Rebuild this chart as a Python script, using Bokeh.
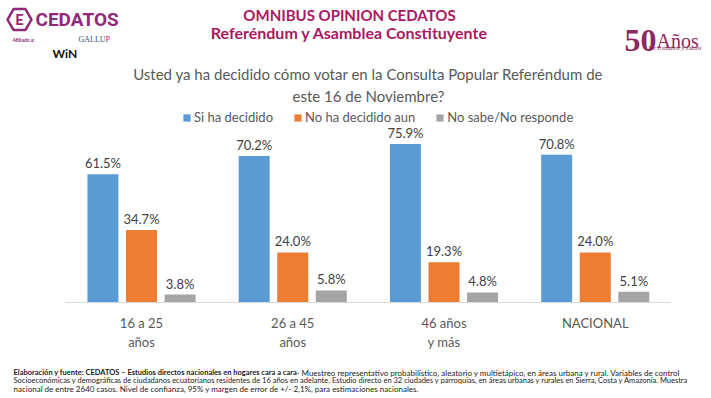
from bokeh.plotting import figure
from bokeh.models import ColumnDataSource, Range1d, Legend, LegendItem, FixedTicker
from bokeh.layouts import column
from bokeh.transform import dodge
from bokeh.core.properties import value
from bokeh.embed import file_html
from bokeh.resources import INLINE

# ---- data ----
groups = ["16 a 25\naños", "26 a 45\naños", "46 años\ny más", "NACIONAL"]
si_decidido = [61.5, 70.2, 75.9, 70.8]
no_decidido = [34.7, 24.0, 19.3, 24.0]
no_sabe = [3.8, 5.8, 4.8, 5.1]
series_names = ["Si ha decidido", "No ha decidido aun", "No sabe/No responde"]
series_colors = ["#5B9BD5", "#ED7D31", "#A5A5A5"]

FONT = "Lato"
W = 711
H_HEAD, H_MAIN, H_FOOT = 108, 244, 46


def blank(h):
    f = figure(width=W, height=h, x_range=Range1d(0, W), y_range=Range1d(h, 0),
               output_backend="svg", toolbar_location=None,
               min_border_left=0, min_border_right=0, min_border_top=0, min_border_bottom=0)
    f.axis.visible = False
    f.grid.visible = False
    f.outline_line_color = None
    return f


def txt(f, s, x, y, size, color, align="left", style="normal", font=FONT, baseline="middle"):
    f.text(x=[x], y=[y], text=[s], text_font=value(font), text_font_size=size,
           text_color=color, text_align=align, text_baseline=baseline, text_font_style=style)


# ---- header ----
head = blank(H_HEAD)
TCOL = "#A8195F"
txt(head, "OMNIBUS OPINION CEDATOS", 349, 14, "15px", TCOL, "center", "bold")
txt(head, "Referéndum y Asamblea Constituyente", 349, 32, "16px", TCOL, "center", "bold")
txt(head, "Usted ya ha decidido cómo votar en la Consulta Popular Referéndum de", 368, 73, "15px", "#595959", "center")
txt(head, "este 16 de Noviembre?", 368, 95, "15px", "#595959", "center")

LCOL = "#8E2A77"
head.scatter(x=[19], y=[19], marker="hex", size=24, fill_color=None, line_color=LCOL, line_width=2.5)
txt(head, "E", 19, 19, "14px", LCOL, "center", "bold", "Roboto")
txt(head, "CEDATOS", 35, 19, "19px", LCOL, "left", "bold", "Roboto")
txt(head, "Afiliado a:", 12, 39, "5px", LCOL, "left", "bold")
txt(head, "GALLUP", 78, 39, "8px", "#3E4F6E", "left", "normal", "Liberation Serif")
txt(head, "WiN", 52, 53, "12px", "#111111", "left", "bold")
ACOL = "#8B2A5E"
txt(head, "50", 624, 40, "32px", ACOL, "left", "bold", "Liberation Serif", "alphabetic")
txt(head, "Años", 656, 40, "20px", ACOL, "left", "normal", "Liberation Serif", "alphabetic")
txt(head, "De Estudios y Datos", 701, 47, "6.5px", ACOL, "right", "italic", "Liberation Serif")

# ---- main chart ----
idx = list(range(len(groups)))
src = ColumnDataSource(dict(
    xi=idx,
    si=si_decidido, no=no_decidido, ns=no_sabe,
    si_t=[f"{v:.1f}%" for v in si_decidido],
    no_t=[f"{v:.1f}%" for v in no_decidido],
    ns_t=[f"{v:.1f}%" for v in no_sabe],
))

GROUP_PX = 151.25      # pixel width of one category
FIRST_CENTER_PX = 141  # pixel position of first category centre
x_start = -FIRST_CENTER_PX / GROUP_PX
x_end = x_start + W / GROUP_PX

p = figure(x_range=Range1d(x_start, x_end), y_range=(0, 92.96),
           width=W, height=H_MAIN, output_backend="svg", toolbar_location=None,
           min_border_left=0, min_border_right=0, min_border_top=0, min_border_bottom=50)
p.outline_line_color = None
p.xgrid.grid_line_color = None
p.ygrid.grid_line_color = None
p.yaxis.visible = False
p.xaxis.ticker = FixedTicker(ticks=idx)
p.xaxis.major_label_overrides = {i: g for i, g in zip(idx, groups)}
p.xaxis.bounds = (-0.5, len(groups) - 0.5)
p.xaxis.axis_line_color = "#D9D9D9"
p.xaxis.major_tick_line_color = None
p.xaxis.minor_tick_line_color = None
p.xaxis.major_label_text_font = FONT
p.xaxis.major_label_text_font_size = "13px"
p.xaxis.major_label_text_color = "#595959"
p.xaxis.major_label_standoff = 6

bw = 0.205
off = 0.255
renderers = []
for col, tcol, dx, color in [("si", "si_t", -off, series_colors[0]),
                             ("no", "no_t", 0.0, series_colors[1]),
                             ("ns", "ns_t", off, series_colors[2])]:
    r = p.vbar(x=dodge("xi", dx), top=col, width=bw, source=src,
               fill_color=color, line_color=None)
    renderers.append(r)
    p.text(x=dodge("xi", dx), y=col, text=tcol, source=src,
           text_align="center", text_baseline="bottom", y_offset=-3,
           text_font=value(FONT), text_font_size="13px", text_color="#404040")

legend = Legend(items=[LegendItem(label=n, renderers=[r]) for n, r in zip(series_names, renderers)],
                orientation="horizontal", location=(182, 177),
                glyph_width=9, glyph_height=9, label_standoff=3, spacing=20,
                padding=0, margin=0, border_line_color=None, background_fill_alpha=0,
                label_text_font=FONT, label_text_font_size="13px", label_text_color="#595959",
                label_height=14)
p.add_layout(legend, "center")

# ---- footer ----
foot = blank(H_FOOT)
FCOL = "#1A1A1A"
y0 = 372 - (H_HEAD + H_MAIN)
txt(foot, "Elaboración y fuente: CEDATOS – Estudios directos nacionales en hogares cara a cara", 13, y0, "7.5px", FCOL, "left", "bold")
txt(foot, " - Muestreo representativo probabilístico, aleatorio y multietápico, en áreas urbana y rural.  Variables de control",
    296, y0, "8px", FCOL)
txt(foot, "Socioeconómicas y demográficas de ciudadanos ecuatorianos residentes de 16 años en adelante. Estudio directo en 32 ciudades y parroquias, en áreas urbanas y rurales en Sierra, Costa y Amazonía. Muestra",
    13, y0 + 8, "7.5px", FCOL)
txt(foot, "nacional de entre 2640 casos. Nivel de confianza, 95% y margen  de error de +/- 2,1%, para estimaciones nacionales.",
    13, y0 + 16, "8px", FCOL)

layout = column(head, p, foot, spacing=0)
open("out.html", "w").write(file_html(layout, INLINE))
